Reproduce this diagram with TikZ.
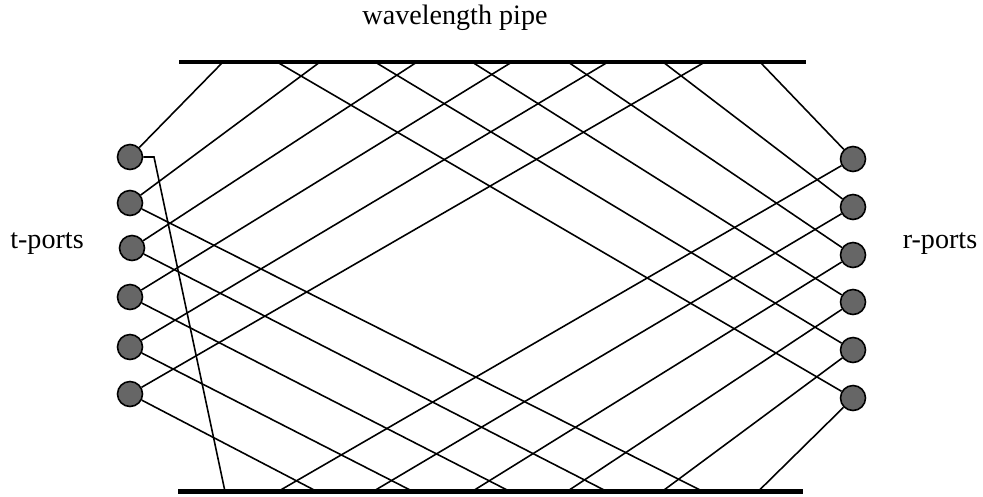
\documentclass[tikz,border=0pt]{standalone}
\usepackage{fontspec}
\setmainfont{Liberation Serif}
\usepackage{tikz}
\usetikzlibrary{positioning}

\begin{document}
\begin{tikzpicture}[
  font=\fontsize{16}{19}\selectfont,
  ray/.style={line width=0.9pt},
  pipe/.style={line width=2.8pt},
  port/.style={circle, draw, line width=0.9pt, fill=black!60, minimum size=5mm, inner sep=0pt},
  lbl/.style={anchor=base, inner sep=0pt}
]
\useasboundingbox (0,0) rectangle (19.66,9.92);
% labels
\node[lbl] (title) at (9.10,9.42) {wavelength pipe};
\node[lbl] (tlbl)  at (0.94,4.96) {t-ports};
\node[lbl] (rlbl)  at (18.80,4.96) {r-ports};
% pipe walls
\coordinate (topL) at (3.58,8.68);
\coordinate (topR) at (16.12,8.68);
\coordinate (botL) at (3.56,0.09);
\coordinate (botR) at (16.06,0.09);
% hits on the upper wall
\coordinate (ut1) at (4.46,8.68);
\coordinate (ut2) at (6.40,8.68);
\coordinate (ut3) at (8.34,8.68);
\coordinate (ut4) at (10.24,8.68);
\coordinate (ut5) at (12.16,8.68);
\coordinate (ut6) at (14.10,8.68);
\coordinate (ur1) at (15.20,8.68);
\coordinate (ur2) at (13.26,8.68);
\coordinate (ur3) at (11.36,8.68);
\coordinate (ur4) at (9.44,8.68);
\coordinate (ur5) at (7.50,8.68);
\coordinate (ur6) at (5.54,8.68);
% hits on the lower wall
\coordinate (dt1) at (4.50,0.09);
\coordinate (dt2) at (14.06,0.09);
\coordinate (dt3) at (12.14,0.09);
\coordinate (dt4) at (10.20,0.09);
\coordinate (dt5) at (8.26,0.09);
\coordinate (dt6) at (6.34,0.09);
\coordinate (dr1) at (5.56,0.09);
\coordinate (dr2) at (7.46,0.09);
\coordinate (dr3) at (9.44,0.09);
\coordinate (dr4) at (11.34,0.09);
\coordinate (dr5) at (13.24,0.09);
\coordinate (dr6) at (15.16,0.09);
\coordinate (kink) at (3.08,6.78);
% t-ports
\node[port] (t1) at (2.60,6.78) {};
\node[port] (t2) at (2.60,5.86) {};
\node[port] (t3) at (2.64,4.96) {};
\node[port] (t4) at (2.60,3.98) {};
\node[port] (t5) at (2.60,2.98) {};
\node[port] (t6) at (2.60,2.04) {};
% r-ports
\node[port] (r1) at (17.06,6.74) {};
\node[port] (r2) at (17.06,5.78) {};
\node[port] (r3) at (17.06,4.82) {};
\node[port] (r4) at (17.06,3.88) {};
\node[port] (r5) at (17.06,2.92) {};
\node[port] (r6) at (17.06,1.96) {};
% walls
\draw[pipe] (topL) -- (topR);
\draw[pipe] (botL) -- (botR);
% rays t-ports -> walls
\draw[ray] (t1) -- (ut1);
\draw[ray] (t2) -- (ut2);
\draw[ray] (t3) -- (ut3);
\draw[ray] (t4) -- (ut4);
\draw[ray] (t5) -- (ut5);
\draw[ray] (t6) -- (ut6);
\draw[ray] (t1) -- (kink) -- (dt1);
\draw[ray] (t2) -- (dt2);
\draw[ray] (t3) -- (dt3);
\draw[ray] (t4) -- (dt4);
\draw[ray] (t5) -- (dt5);
\draw[ray] (t6) -- (dt6);
% rays walls -> r-ports
\draw[ray] (ur1) -- (r1);
\draw[ray] (ur2) -- (r2);
\draw[ray] (ur3) -- (r3);
\draw[ray] (ur4) -- (r4);
\draw[ray] (ur5) -- (r5);
\draw[ray] (ur6) -- (r6);
\draw[ray] (dr1) -- (r1);
\draw[ray] (dr2) -- (r2);
\draw[ray] (dr3) -- (r3);
\draw[ray] (dr4) -- (r4);
\draw[ray] (dr5) -- (r5);
\draw[ray] (dr6) -- (r6);
\end{tikzpicture}
\end{document}
